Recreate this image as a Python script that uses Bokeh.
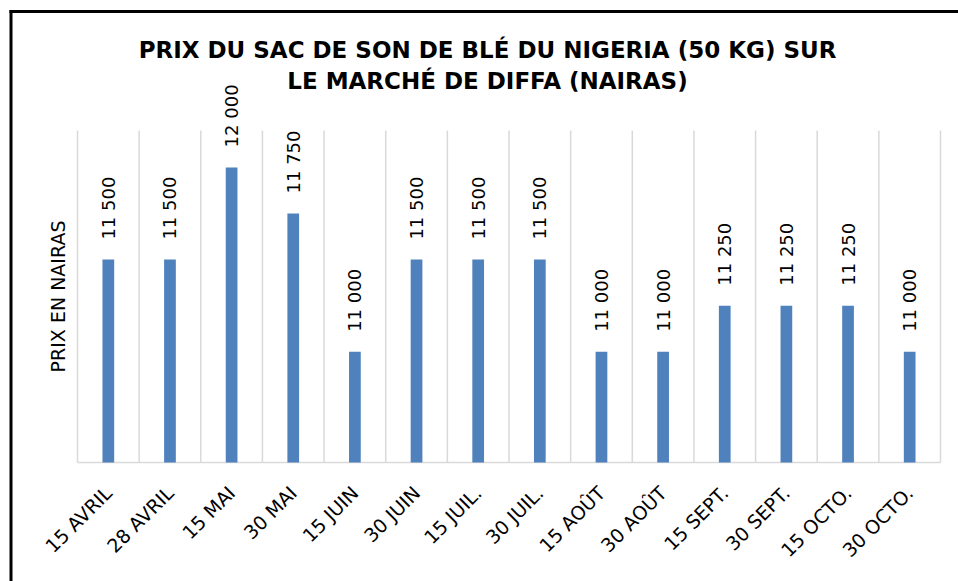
import math
from bokeh.plotting import figure
from bokeh.models import ColumnDataSource, Range1d, LabelSet, Label
from bokeh.core.properties import value
from bokeh.embed import file_html
from bokeh.resources import INLINE

categories = ["15 AVRIL", "28 AVRIL", "15 MAI", "30 MAI", "15 JUIN", "30 JUIN",
              "15 JUIL.", "30 JUIL.", "15 AOÛT", "30 AOÛT", "15 SEPT.", "30 SEPT.",
              "15 OCTO.", "30 OCTO."]
prices = [11500, 11500, 12000, 11750, 11000, 11500, 11500, 11500,
          11000, 11000, 11250, 11250, 11250, 11000]
y_min, y_max = 10400, 12200
title_lines = ["PRIX DU SAC DE SON DE BLÉ DU NIGERIA (50 KG) SUR",
               "LE MARCHÉ DE DIFFA (NAIRAS)"]
y_title = "PRIX EN NAIRAS"

# ---- layout constants (canvas pixels) ----
FONT = "DejaVu Sans"
W, H = 958, 581
PLOT_L, PLOT_R, PLOT_T, PLOT_B = 77, 940, 130, 462   # inner plotting area
BORDER_X, BORDER_Y = 10.5, 11                        # chart border (left / top)

n = len(categories)
unit_px = (PLOT_R - PLOT_L) / n
x_start = -PLOT_L / unit_px
x_end = n + (W - PLOT_R) / unit_px
y_per_px = (y_max - y_min) / (PLOT_B - PLOT_T)
y_end = y_max + PLOT_T * y_per_px
y_start = y_min - (H - PLOT_B) * y_per_px

centers = [i + 0.5 for i in range(n)]
labels = [f"{v:,}".replace(",", " ") for v in prices]
src = ColumnDataSource(dict(x=centers, price=prices, label=labels, cat=categories,
                            base=[y_min] * n))

p = figure(x_range=Range1d(x_start, x_end), y_range=Range1d(y_start, y_end),
           width=W, height=H, output_backend="svg", toolbar_location=None,
           min_border=0)
p.outline_line_color = None
p.background_fill_color = "white"
p.border_fill_color = "white"
p.grid.visible = False
p.axis.visible = False

# chart frame (left and top edges of the black border)
bx = x_start + BORDER_X / unit_px
by = y_end - BORDER_Y * y_per_px
p.segment(x0=[bx, bx], y0=[by, by], x1=[bx, x_end], y1=[y_start, by],
          line_color="black", line_width=3, line_cap="square")

# category separators and baseline
bounds = list(range(n + 1))
p.segment(x0=bounds, y0=[y_min] * (n + 1), x1=bounds, y1=[y_max] * (n + 1),
          line_color="#D9D9D9", line_width=1.5)
p.segment(x0=[0], y0=[y_min], x1=[n], y1=[y_min], line_color="#D9D9D9", line_width=1.5)

p.vbar(x="x", top="price", bottom="base", width=0.19, source=src,
       fill_color="#4F81BD", line_color=None)

# value labels
p.add_layout(LabelSet(x="x", y="price", text="label", source=src, angle=math.pi / 2,
                      text_align="left", text_baseline="middle", y_offset=20,
                      text_font=value(FONT), text_font_size="18px", text_color="#000000"))

# category labels
p.text(x="x", y="base", text="cat", source=src, angle=math.pi / 4,
       text_align="right", text_baseline="middle", y_offset=27,
       text_font=value(FONT), text_font_size="19px", text_color="#000000")

p.add_layout(Label(x=57.5, y=(PLOT_T + PLOT_B) / 2, x_units="canvas", y_units="canvas",
                   text=y_title, angle=math.pi / 2, text_align="center",
                   text_baseline="middle", text_font=FONT, text_font_size="19px",
                   text_color="#000000"))

for t, yy in zip(title_lines, [49.5, 80.5]):
    p.add_layout(Label(x=487, y=yy, x_units="canvas", y_units="canvas", text=t,
                       text_align="center", text_baseline="middle",
                       text_font=FONT, text_font_size="23px", text_font_style="bold",
                       text_color="#000000"))

open("out.html", "w").write(file_html(p, INLINE))
